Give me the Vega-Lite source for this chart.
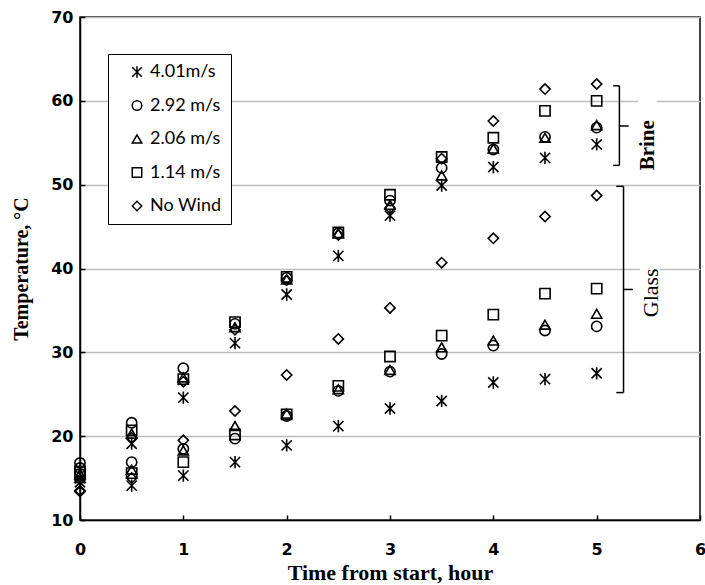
{
  "$schema": "https://vega.github.io/schema/vega-lite/v6.json",
  "width": 620,
  "height": 503,
  "autosize": {"type": "none"},
  "padding": {"left": 80, "top": 17, "right": 5, "bottom": 65},
  "background": "white",
  "config": {"view": {"stroke": "black", "strokeWidth": 1.5}},
  "datasets": {
    "pts": [
      {"x": 0, "y": 15.0, "s": "4.01m/s"}, {"x": 0.5, "y": 19.1, "s": "4.01m/s"}, {"x": 1, "y": 24.6, "s": "4.01m/s"}, {"x": 1.5, "y": 31.1, "s": "4.01m/s"}, {"x": 2, "y": 36.9, "s": "4.01m/s"}, {"x": 2.5, "y": 41.5, "s": "4.01m/s"}, {"x": 3, "y": 46.3, "s": "4.01m/s"}, {"x": 3.5, "y": 49.9, "s": "4.01m/s"}, {"x": 4, "y": 52.1, "s": "4.01m/s"}, {"x": 4.5, "y": 53.2, "s": "4.01m/s"}, {"x": 5, "y": 54.8, "s": "4.01m/s"},
      {"x": 0, "y": 14.5, "s": "4.01m/s"}, {"x": 0.5, "y": 14.1, "s": "4.01m/s"}, {"x": 1, "y": 15.3, "s": "4.01m/s"}, {"x": 1.5, "y": 16.9, "s": "4.01m/s"}, {"x": 2, "y": 18.9, "s": "4.01m/s"}, {"x": 2.5, "y": 21.2, "s": "4.01m/s"}, {"x": 3, "y": 23.3, "s": "4.01m/s"}, {"x": 3.5, "y": 24.2, "s": "4.01m/s"}, {"x": 4, "y": 26.4, "s": "4.01m/s"}, {"x": 4.5, "y": 26.8, "s": "4.01m/s"}, {"x": 5, "y": 27.5, "s": "4.01m/s"},
      {"x": 0, "y": 16.8, "s": "2.92 m/s"}, {"x": 0.5, "y": 21.6, "s": "2.92 m/s"}, {"x": 1, "y": 28.1, "s": "2.92 m/s"}, {"x": 1.5, "y": 33.4, "s": "2.92 m/s"}, {"x": 2, "y": 38.9, "s": "2.92 m/s"}, {"x": 2.5, "y": 44.2, "s": "2.92 m/s"}, {"x": 3, "y": 48.1, "s": "2.92 m/s"}, {"x": 3.5, "y": 52.0, "s": "2.92 m/s"}, {"x": 4, "y": 54.2, "s": "2.92 m/s"}, {"x": 4.5, "y": 55.7, "s": "2.92 m/s"}, {"x": 5, "y": 56.8, "s": "2.92 m/s"},
      {"x": 0, "y": 16.2, "s": "2.92 m/s"}, {"x": 0.5, "y": 16.9, "s": "2.92 m/s"}, {"x": 1, "y": 18.5, "s": "2.92 m/s"}, {"x": 1.5, "y": 19.7, "s": "2.92 m/s"}, {"x": 2, "y": 22.4, "s": "2.92 m/s"}, {"x": 2.5, "y": 25.4, "s": "2.92 m/s"}, {"x": 3, "y": 27.7, "s": "2.92 m/s"}, {"x": 3.5, "y": 29.8, "s": "2.92 m/s"}, {"x": 4, "y": 30.8, "s": "2.92 m/s"}, {"x": 4.5, "y": 32.6, "s": "2.92 m/s"}, {"x": 5, "y": 33.1, "s": "2.92 m/s"},
      {"x": 0, "y": 15.5, "s": "2.06 m/s"}, {"x": 0.5, "y": 20.3, "s": "2.06 m/s"}, {"x": 1, "y": 27.0, "s": "2.06 m/s"}, {"x": 1.5, "y": 33.0, "s": "2.06 m/s"}, {"x": 2, "y": 38.7, "s": "2.06 m/s"}, {"x": 2.5, "y": 44.2, "s": "2.06 m/s"}, {"x": 3, "y": 47.6, "s": "2.06 m/s"}, {"x": 3.5, "y": 51.1, "s": "2.06 m/s"}, {"x": 4, "y": 54.3, "s": "2.06 m/s"}, {"x": 4.5, "y": 55.6, "s": "2.06 m/s"}, {"x": 5, "y": 57.1, "s": "2.06 m/s"},
      {"x": 0, "y": 15.0, "s": "2.06 m/s"}, {"x": 0.5, "y": 16.0, "s": "2.06 m/s"}, {"x": 1, "y": 18.3, "s": "2.06 m/s"}, {"x": 1.5, "y": 21.2, "s": "2.06 m/s"}, {"x": 2, "y": 22.7, "s": "2.06 m/s"}, {"x": 2.5, "y": 25.6, "s": "2.06 m/s"}, {"x": 3, "y": 27.9, "s": "2.06 m/s"}, {"x": 3.5, "y": 30.6, "s": "2.06 m/s"}, {"x": 4, "y": 31.4, "s": "2.06 m/s"}, {"x": 4.5, "y": 33.3, "s": "2.06 m/s"}, {"x": 5, "y": 34.6, "s": "2.06 m/s"},
      {"x": 0, "y": 15.8, "s": "1.14 m/s"}, {"x": 0.5, "y": 20.7, "s": "1.14 m/s"}, {"x": 1, "y": 26.8, "s": "1.14 m/s"}, {"x": 1.5, "y": 33.6, "s": "1.14 m/s"}, {"x": 2, "y": 39.0, "s": "1.14 m/s"}, {"x": 2.5, "y": 44.3, "s": "1.14 m/s"}, {"x": 3, "y": 48.8, "s": "1.14 m/s"}, {"x": 3.5, "y": 53.3, "s": "1.14 m/s"}, {"x": 4, "y": 55.6, "s": "1.14 m/s"}, {"x": 4.5, "y": 58.8, "s": "1.14 m/s"}, {"x": 5, "y": 60.0, "s": "1.14 m/s"},
      {"x": 0, "y": 15.4, "s": "1.14 m/s"}, {"x": 0.5, "y": 15.6, "s": "1.14 m/s"}, {"x": 1, "y": 16.9, "s": "1.14 m/s"}, {"x": 1.5, "y": 20.2, "s": "1.14 m/s"}, {"x": 2, "y": 22.6, "s": "1.14 m/s"}, {"x": 2.5, "y": 26.0, "s": "1.14 m/s"}, {"x": 3, "y": 29.5, "s": "1.14 m/s"}, {"x": 3.5, "y": 32.0, "s": "1.14 m/s"}, {"x": 4, "y": 34.5, "s": "1.14 m/s"}, {"x": 4.5, "y": 37.0, "s": "1.14 m/s"}, {"x": 5, "y": 37.6, "s": "1.14 m/s"},
      {"x": 0, "y": 13.5, "s": "No Wind"}, {"x": 0.5, "y": 19.8, "s": "No Wind"}, {"x": 1, "y": 26.5, "s": "No Wind"}, {"x": 1.5, "y": 32.7, "s": "No Wind"}, {"x": 2, "y": 38.6, "s": "No Wind"}, {"x": 2.5, "y": 44.0, "s": "No Wind"}, {"x": 3, "y": 47.2, "s": "No Wind"}, {"x": 3.5, "y": 53.1, "s": "No Wind"}, {"x": 4, "y": 57.6, "s": "No Wind"}, {"x": 4.5, "y": 61.4, "s": "No Wind"}, {"x": 5, "y": 62.0, "s": "No Wind"},
      {"x": 0, "y": 13.4, "s": "No Wind"}, {"x": 0.5, "y": 15.0, "s": "No Wind"}, {"x": 1, "y": 19.5, "s": "No Wind"}, {"x": 1.5, "y": 23.0, "s": "No Wind"}, {"x": 2, "y": 27.3, "s": "No Wind"}, {"x": 2.5, "y": 31.6, "s": "No Wind"}, {"x": 3, "y": 35.3, "s": "No Wind"}, {"x": 3.5, "y": 40.7, "s": "No Wind"}, {"x": 4, "y": 43.6, "s": "No Wind"}, {"x": 4.5, "y": 46.2, "s": "No Wind"}, {"x": 5, "y": 48.7, "s": "No Wind"}
    ],
    "brackets": [
      {"x": 5.22, "x2": 5.22, "y": 52.3, "y2": 61.8},
      {"x": 5.16, "x2": 5.22, "y": 61.8, "y2": 61.8},
      {"x": 5.16, "x2": 5.22, "y": 52.3, "y2": 52.3},
      {"x": 5.22, "x2": 5.31, "y": 57.0, "y2": 57.0},
      {"x": 5.26, "x2": 5.26, "y": 25.2, "y2": 49.8},
      {"x": 5.19, "x2": 5.26, "y": 49.8, "y2": 49.8},
      {"x": 5.19, "x2": 5.26, "y": 25.2, "y2": 25.2},
      {"x": 5.26, "x2": 5.35, "y": 37.5, "y2": 37.5}
    ],
    "boxes": [
      {"x": 5.40, "x2": 5.58, "y": 51, "y2": 61},
      {"x": 5.42, "x2": 5.61, "y": 33, "y2": 41.5}
    ]
  },
  "layer": [
    {
      "data": {"name": "boxes"},
      "mark": {"type": "rect", "fill": "white"},
      "encoding": {
        "x": {"field": "x", "type": "quantitative"},
        "x2": {"field": "x2"},
        "y": {"field": "y", "type": "quantitative"},
        "y2": {"field": "y2"}
      }
    },
    {
      "data": {"name": "brackets"},
      "mark": {"type": "rule", "color": "black", "strokeWidth": 1.5},
      "encoding": {
        "x": {"field": "x", "type": "quantitative"},
        "x2": {"field": "x2"},
        "y": {"field": "y", "type": "quantitative"},
        "y2": {"field": "y2"}
      }
    },
    {
      "data": {"name": "pts"},
      "mark": {"type": "point", "filled": false, "color": "black", "strokeWidth": 1.6, "size": 105, "opacity": 1},
      "encoding": {
        "x": {
          "field": "x", "type": "quantitative",
          "scale": {"domain": [0, 6], "nice": false, "zero": false},
          "axis": {
            "values": [0, 0.5, 1, 1.5, 2, 2.5, 3, 3.5, 4, 4.5, 5, 5.5, 6],
            "format": "d",
            "labelExpr": "datum.value % 1 === 0 ? datum.label : ''",
            "grid": false,
            "tickSize": -5, "tickColor": "black", "tickWidth": 1.5,
            "domainColor": "black", "domainWidth": 1.5,
            "labelFont": "DejaVu Sans", "labelFontWeight": "bold", "labelFontSize": 16, "labelColor": "black",
            "labelPadding": 26, "labelFlush": false, "labelOverlap": false,
            "title": "Time from start, hour",
            "titleFont": "Liberation Serif", "titleFontSize": 22, "titleFontWeight": "bold", "titleColor": "black",
            "titlePadding": 5
          }
        },
        "y": {
          "field": "y", "type": "quantitative",
          "scale": {"domain": [10, 70], "nice": false, "zero": false},
          "axis": {
            "values": [10, 20, 30, 40, 50, 60, 70],
            "format": "d",
            "grid": true, "gridColor": "#bdbdbd", "gridWidth": 1.5,
            "tickSize": -5, "tickColor": "black", "tickWidth": 1.5,
            "domainColor": "black", "domainWidth": 1.5,
            "labelFont": "DejaVu Sans", "labelFontWeight": "bold", "labelFontSize": 16, "labelColor": "black",
            "labelPadding": 12, "labelFlush": false, "labelOverlap": false,
            "title": "Temperature, °C",
            "titleFont": "Liberation Serif", "titleFontSize": 20, "titleFontWeight": "bold", "titleColor": "black",
            "titlePadding": 19
          }
        },
        "shape": {
          "field": "s", "type": "nominal",
          "scale": {
            "domain": ["4.01m/s", "2.92 m/s", "2.06 m/s", "1.14 m/s", "No Wind"],
            "range": ["M0,-1.2L0,1.2M-1,-1L1,1M-1,1L1,-1", "circle", "triangle-up", "square", "diamond"]
          },
          "legend": {
            "title": null,
            "orient": "none", "legendX": 28, "legendY": 37,
            "strokeColor": "black", "fillColor": "white",
            "padding": 9,
            "rowPadding": 15.5,
            "symbolSize": 90, "symbolStrokeColor": "black", "symbolFillColor": "white", "symbolStrokeWidth": 1.5,
            "symbolOffset": 11,
            "labelFont": "Lato", "labelFontSize": 18, "labelColor": "black", "labelOffset": 4
          }
        }
      }
    },
    {
      "data": {"values": [{"x": 5.5, "y": 54.7, "t": "Brine"}]},
      "mark": {"type": "text", "angle": 270, "font": "Liberation Serif", "fontSize": 21, "fontWeight": "bold", "color": "black", "align": "center", "baseline": "middle"},
      "encoding": {
        "x": {"field": "x", "type": "quantitative"},
        "y": {"field": "y", "type": "quantitative"},
        "text": {"field": "t"}
      }
    },
    {
      "data": {"values": [{"x": 5.53, "y": 37.1, "t": "Glass"}]},
      "mark": {"type": "text", "angle": 270, "font": "Liberation Serif", "fontSize": 22, "color": "black", "align": "center", "baseline": "middle"},
      "encoding": {
        "x": {"field": "x", "type": "quantitative"},
        "y": {"field": "y", "type": "quantitative"},
        "text": {"field": "t"}
      }
    }
  ]
}
